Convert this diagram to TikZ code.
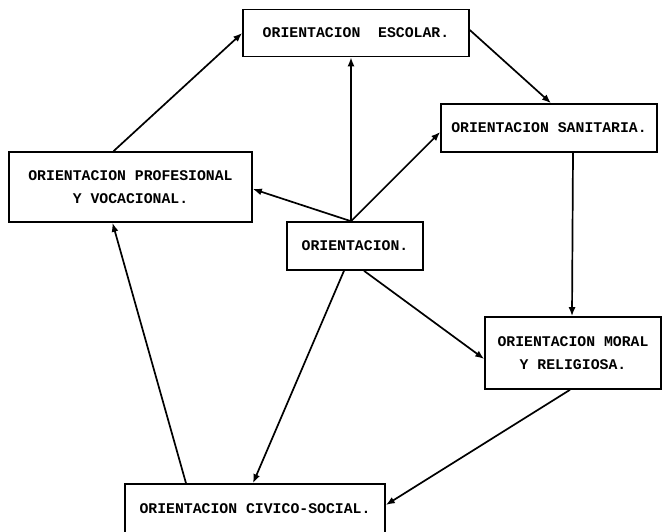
\documentclass[tikz,border=0pt]{standalone}
\usepackage{fontspec}
\newfontfamily\plotfont{Liberation Mono}
\usetikzlibrary{arrows.meta}
\tikzset{
  box/.style={draw, line width=1.6pt, inner sep=0pt, align=center, font=\plotfont\bfseries\fontsize{14.8}{23}\selectfont},
  conn/.style={line width=1.7pt, -{Latex[length=9pt,width=7pt]}}
}
\begin{document}
\begin{tikzpicture}[x=1pt,y=-1pt]
\useasboundingbox (0,0) rectangle (662,531);
\node[box, minimum width=226pt, minimum height=47pt] (esc) at (356,33) {ORIENTACION\ \ ESCOLAR.};
\node[box, minimum width=216pt, minimum height=48pt] (san) at (549,128) {ORIENTACION SANITARIA.};
\node[box, minimum width=243pt, minimum height=70pt] (prof) at (130.5,187) {ORIENTACION PROFESIONAL\\Y VOCACIONAL.};
\node[box, minimum width=136pt, minimum height=48pt] (cen) at (355,246) {ORIENTACION.};
\node[box, minimum width=176pt, minimum height=72pt] (mor) at (573,353) {ORIENTACION MORAL\\Y RELIGIOSA.};
\node[box, minimum width=260pt, minimum height=50pt, yshift=-1pt] (civ) at (255,508) {ORIENTACION CIVICO-SOCIAL.};
\draw[conn] ([xshift=-17pt]prof.north) -- (esc.west);
\draw[conn] ([yshift=3pt]esc.east) -- ([xshift=2pt]san.north);
\draw[conn] ([xshift=-4pt]cen.north) -- ([xshift=-5pt]esc.south);
\draw[conn] ([xshift=-4pt]cen.north) -- ([yshift=-4pt]san.west);
\draw[conn] ([xshift=-4pt]cen.north) -- ([yshift=-2pt]prof.east);
\draw[conn] ([xshift=24pt]san.south) -- ([xshift=-1pt]mor.north);
\draw[conn] ([xshift=9pt]cen.south) -- ([yshift=-6pt]mor.west);
\draw[conn] ([xshift=-11pt]cen.south) -- ([xshift=-2pt]civ.north);
\draw[conn] ([xshift=-3pt]mor.south) -- ([yshift=4pt]civ.east);
\draw[conn] ([xshift=-69pt]civ.north) -- ([xshift=-18pt]prof.south);
\end{tikzpicture}
\end{document}
